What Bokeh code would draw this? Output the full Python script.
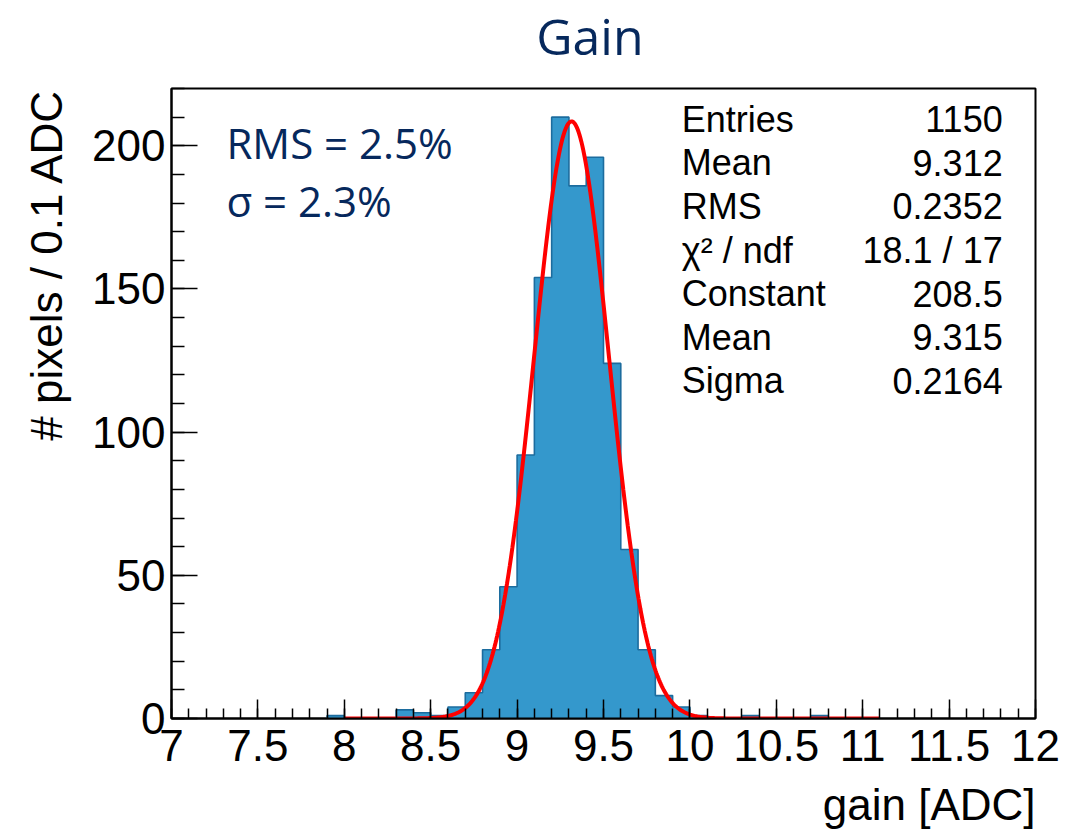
import numpy as np
from bokeh.plotting import figure
from bokeh.layouts import column
from bokeh.models import Range1d, FixedTicker, Label, Title
from bokeh.embed import file_html
from bokeh.resources import INLINE

# Histogram of per-pixel gain: lower bin edges (0.1 ADC bins) and counts
bin_low = [7.9, 8.0, 8.1, 8.2, 8.3, 8.4, 8.5, 8.6, 8.7, 8.8, 8.9, 9.0, 9.1,
           9.2, 9.3, 9.4, 9.5, 9.6, 9.7, 9.8, 9.9, 10.0, 10.1, 10.2, 10.3,
           10.4, 10.5, 10.6, 10.7]
counts = [1, 0, 0, 0, 3, 2, 1, 4, 9, 24, 46, 92, 154,
          210, 186, 196, 124, 59, 24, 8, 4, 1, 0, 0, 1,
          0, 0, 0, 1]
bin_width = 0.1

# Gaussian fit result and fit range
fit_constant = 208.5
fit_mean = 9.315
fit_sigma = 0.2164
fit_range = [8.0, 11.1]

# Statistics box entries
stat_names = ["Entries", "Mean", "RMS", "χ² / ndf", "Constant", "Mean", "Sigma"]
stat_values = ["1150", "9.312", "0.2352", "18.1 / 17", "208.5", "9.315", "0.2164"]

notes = ["RMS = 2.5%", "σ = 2.3%"]

# Axis ticks
x_ticks = [7, 7.5, 8, 8.5, 9, 9.5, 10, 10.5, 11, 11.5, 12]
x_tick_labels = ["7", "7.5", "8", "8.5", "9", "9.5", "10", "10.5", "11", "11.5", "12"]
x_minor = [round(7 + 0.1 * i, 1) for i in range(51)]
y_ticks = [0, 50, 100, 150, 200]
y_tick_labels = ["0", "50", "100", "150", "200"]
y_minor = list(range(0, 221, 10))

NAVY = "#06285c"
ROOT_FONT = "Liberation Sans"
W = 1073
X_RANGE = (7, 12)


def text_strip(height, label):
    """A bare strip (no axes) sharing the histogram's x scale, holding one line of text."""
    s = figure(width=W, height=height, x_range=Range1d(*X_RANGE), y_range=Range1d(0, height),
               output_backend="svg", toolbar_location=None,
               min_border_left=0, min_border_right=0, min_border_top=0, min_border_bottom=0)
    s.axis.visible = False
    s.grid.visible = False
    s.outline_line_color = None
    s.add_layout(label)
    return s


# title strip
head = text_strip(86, Label(x=9.421, y=51, text="Gain", text_font="Open Sans",
                            text_font_size="50px", text_align="center",
                            text_baseline="alphabetic", text_color=NAVY))

# main histogram panel
p = figure(width=W, height=694, x_range=Range1d(*X_RANGE), y_range=Range1d(0, 220),
           output_backend="svg", toolbar_location=None,
           min_border_left=171, min_border_right=38, min_border_top=2, min_border_bottom=62)

p.grid.visible = False
p.background_fill_color = "white"
p.border_fill_color = "white"
p.outline_line_color = "black"
p.outline_line_width = 2

# histogram: filled area and step outline built from the bin contents
lefts = np.array(bin_low)
rights = lefts + bin_width
xs = np.repeat(np.append(lefts, rights[-1]), 2)
ys = np.concatenate([[0], np.repeat(counts, 2), [0]])
p.patch(xs, ys, fill_color="#3498cc", line_color=None)
p.line(xs, ys, line_color="#1c6c9e", line_width=1.6)

# gaussian fit curve
xf = np.linspace(fit_range[0], fit_range[1], 600)
yf = fit_constant * np.exp(-0.5 * ((xf - fit_mean) / fit_sigma) ** 2)
p.line(xf, yf, line_color="#ff0000", line_width=4)

# axes
for ax, ticks, minor, labels in ((p.xaxis, x_ticks, x_minor, x_tick_labels),
                                 (p.yaxis, y_ticks, y_minor, y_tick_labels)):
    ax.ticker = FixedTicker(ticks=ticks, minor_ticks=minor)
    ax.major_label_overrides = {t: l for t, l in zip(ticks, labels)}
    ax.major_tick_out = 0
    ax.minor_tick_out = 0
    ax.axis_line_color = "black"
    ax.axis_line_width = 2
    ax.major_tick_line_color = "black"
    ax.major_tick_line_width = 1.5
    ax.minor_tick_line_color = "black"
    ax.minor_tick_line_width = 1.5
    ax.major_label_text_font = ROOT_FONT
    ax.major_label_text_font_size = "44px"
    ax.major_label_text_color = "black"

p.xaxis.major_tick_in = 19
p.xaxis.minor_tick_in = 10
p.xaxis.major_label_standoff = 11
p.yaxis.major_tick_in = 26
p.yaxis.minor_tick_in = 13
p.yaxis.major_label_standoff = 6

# y axis title, aligned to the top end of the axis
p.add_layout(Title(text="# pixels / 0.1 ADC", align="right", text_font=ROOT_FONT,
                   text_font_size="44px", text_font_style="normal", text_color="black",
                   standoff=38), "left")

# statistics box text
x_name, x_val = 9.953, 11.81
y0, dy = 209.3, 15.24
for i, (n, v) in enumerate(zip(stat_names, stat_values)):
    yy = y0 - i * dy
    p.add_layout(Label(x=x_name, y=yy, text=n, text_font=ROOT_FONT, text_font_size="36px",
                       text_baseline="alphabetic", text_align="left", text_color="black"))
    p.add_layout(Label(x=x_val, y=yy, text=v, text_font=ROOT_FONT, text_font_size="36px",
                       text_baseline="alphabetic", text_align="right", text_color="black"))

# resolution notes
for i, t in enumerate(notes):
    p.add_layout(Label(x=7.318, y=201.2 - i * 20.2, text=t, text_font="Open Sans",
                       text_font_size="42px", text_baseline="alphabetic",
                       text_align="left", text_color=NAVY))

# x axis title strip, right-aligned with the frame
foot = text_strip(52, Label(x=X_RANGE[1], y=28, text="gain [ADC]", text_font=ROOT_FONT,
                            text_font_size="44px", text_align="right",
                            text_baseline="alphabetic", text_color="black"))

page = column(head, p, foot, spacing=0)
open("out.html", "w").write(file_html(page, INLINE))
